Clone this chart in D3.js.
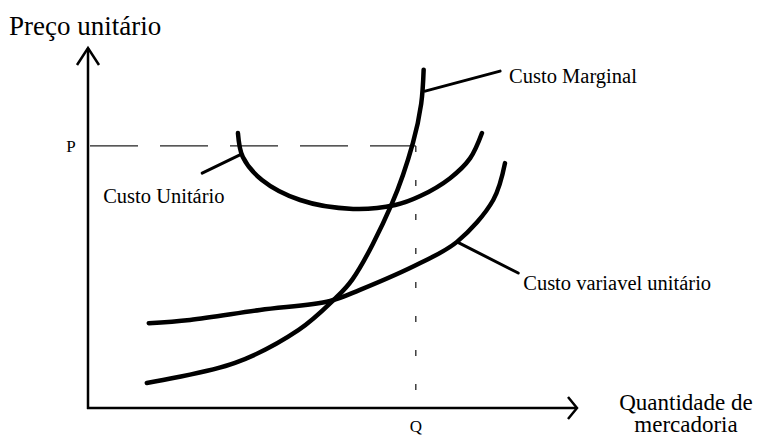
<!DOCTYPE html>
<html>
<head>
<meta charset="utf-8">
<script src="https://cdn.jsdelivr.net/npm/d3@7"></script>
<style>
	html, body { margin: 0; padding: 0; background: #fff; }
	svg text { font-family: 'Liberation Serif', 'Times New Roman', serif; fill: #000; }
	.curve { fill: none; stroke: #000; stroke-width: 4.5; stroke-linecap: round; }
	.axis-line { stroke: #000; stroke-width: 2.5; fill: none; }
	.leader { stroke: #000; stroke-width: 3; stroke-linecap: round; }
	.guide { stroke: #222; stroke-width: 1.3; stroke-dasharray: 48, 22; }
</style>
</head>
<body>
<div id="chart"></div>
<script>
// Global vars (quantity 0-100 on x, price 0-100 on y)
var curveNames = ['Custo Marginal', 'Custo Unitário', 'Custo variavel unitário'];

var marginalCost = [
	[12, 7], [30, 12.6], [43, 21.8], [50, 30], [54, 36],
	[62, 57], [66.3, 74], [68, 85], [68.5, 94.5]
];

var unitCost = [
	[30.6, 76.8], [31.6, 70.1], [35.5, 63.7], [43.3, 58.1], [54.1, 55.6],
	[62.7, 56.7], [67.8, 59.2], [73.9, 64.2], [78, 69.8], [80.4, 76.8]
];

var variableCost = [
	[12.4, 23.7], [20.8, 24.6], [35.1, 27.4], [49.4, 29.9], [55.5, 33],
	[67.8, 40.5], [75.3, 46.4], [82.7, 58.1], [85.1, 68.4]
];

var priceLevel = 73.2;
var quantityLevel = 66.9;

var axisLabels = {
	y: 'Preço unitário',
	x: ['Quantidade de', 'mercadoria'],
	p: 'P',
	q: 'Q'
};

/*
 * Render the graphic.
 */
var render = function() {
	var width = 762;
	var height = 436;

	var xScale = d3.scaleLinear().domain([0, 100]).range([88, 578]);
	var yScale = d3.scaleLinear().domain([0, 100]).range([408, 50]);

	var svg = d3.select('#chart')
		.append('svg')
		.attr('width', width)
		.attr('height', height);

	var line = d3.line()
		.curve(d3.curveCatmullRom.alpha(0.5))
		.x(function(d) { return xScale(d[0]); })
		.y(function(d) { return yScale(d[1]); });

	/*
	 * Dashed guides for P and Q.
	 */
	svg.append('line')
		.attr('class', 'guide')
		.attr('x1', xScale(0) + 2)
		.attr('x2', xScale(quantityLevel))
		.attr('y1', yScale(priceLevel))
		.attr('y2', yScale(priceLevel));

	svg.append('line')
		.attr('class', 'guide')
		.style('stroke-dasharray', '6, 28')
		.attr('x1', xScale(quantityLevel))
		.attr('x2', xScale(quantityLevel))
		.attr('y1', yScale(priceLevel))
		.attr('y2', yScale(0));

	/*
	 * Axes with open arrow heads.
	 */
	var x0 = xScale(0), y0 = yScale(0);
	var yTop = yScale(100) - 2;
	var xEnd = xScale(100) - 1;

	svg.append('line').attr('class', 'axis-line')
		.attr('x1', x0).attr('y1', y0 + 1).attr('x2', x0).attr('y2', yTop);
	svg.append('path').attr('class', 'axis-line')
		.attr('d', 'M' + (x0 - 11) + ',' + (yTop + 17) + 'L' + x0 + ',' + yTop + 'L' + (x0 + 11) + ',' + (yTop + 17));

	svg.append('line').attr('class', 'axis-line')
		.attr('x1', x0 - 1).attr('y1', y0).attr('x2', xEnd).attr('y2', y0);
	svg.append('path').attr('class', 'axis-line')
		.attr('d', 'M' + (xEnd - 9) + ',' + (y0 - 11) + 'L' + xEnd + ',' + y0 + 'L' + (xEnd - 9) + ',' + (y0 + 11));

	/*
	 * Cost curves.
	 */
	svg.append('g')
		.selectAll('path')
		.data([marginalCost, unitCost, variableCost])
		.enter()
		.append('path')
		.attr('class', 'curve')
		.attr('d', function(d) { return line(d); });

	/*
	 * Leader lines and curve labels.
	 */
	var labels = [
		{ name: curveNames[0], from: [68.8, 88.5], to: [84.1, 94.1], dx: 9, dy: 12 },
		{ name: curveNames[1], from: [31.0, 70.7], to: [23.3, 65.6], dx: -99, dy: 30 },
		{ name: curveNames[2], from: [75.3, 46.4], to: [87.8, 37.7], dx: 5, dy: 17 }
	];

	svg.append('g')
		.selectAll('line')
		.data(labels)
		.enter()
		.append('line')
		.attr('class', 'leader')
		.attr('x1', function(d) { return xScale(d.from[0]); })
		.attr('y1', function(d) { return yScale(d.from[1]); })
		.attr('x2', function(d) { return xScale(d.to[0]); })
		.attr('y2', function(d) { return yScale(d.to[1]); });

	svg.append('g')
		.selectAll('text')
		.data(labels)
		.enter()
		.append('text')
		.attr('x', function(d) { return xScale(d.to[0]) + d.dx; })
		.attr('y', function(d) { return yScale(d.to[1]) + d.dy; })
		.style('font-size', '20.5px')
		.text(function(d) { return d.name; });

	/*
	 * Axis titles and P / Q marks.
	 */
	svg.append('text')
		.attr('x', 9)
		.attr('y', 35)
		.style('font-size', '27px')
		.text(axisLabels.y);

	svg.append('g')
		.selectAll('text')
		.data(axisLabels.x)
		.enter()
		.append('text')
		.attr('x', 686)
		.attr('y', function(d, i) { return 410 + i * 22; })
		.attr('text-anchor', 'middle')
		.style('font-size', '23px')
		.text(function(d) { return d; });

	svg.append('text')
		.attr('x', xScale(0) - 17)
		.attr('y', yScale(priceLevel) + 6)
		.attr('text-anchor', 'middle')
		.style('font-size', '17px')
		.text(axisLabels.p);

	svg.append('text')
		.attr('x', xScale(quantityLevel))
		.attr('y', 432)
		.attr('text-anchor', 'middle')
		.style('font-size', '17px')
		.text(axisLabels.q);
};

render();
</script>
</body>
</html>
